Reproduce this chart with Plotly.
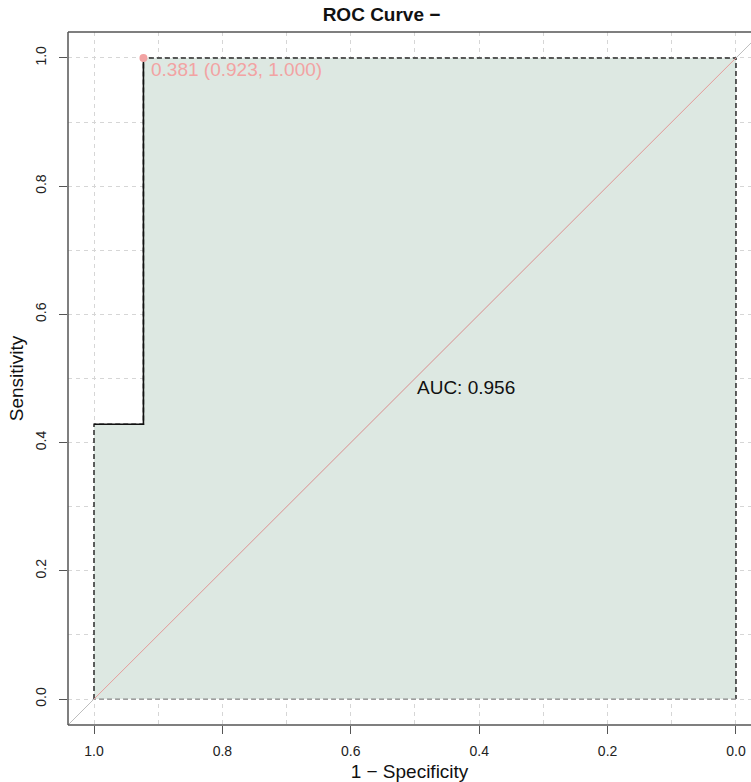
import plotly.graph_objects as go

# ROC data (x axis = specificity, reversed)
roc_spec = [1.0, 1.0, 0.923, 0.923, 0.0]
roc_sens = [0.0, 0.4286, 0.4286, 1.0, 1.0]
auc_value = 0.956
best_threshold = 0.381
best_spec = 0.923
best_sens = 1.000
x_ticks = [1.0, 0.8, 0.6, 0.4, 0.2, 0.0]
y_ticks = [0.0, 0.2, 0.4, 0.6, 0.8, 1.0]
grid_vals = [0.1, 0.3, 0.5, 0.7, 0.9]

FONT = "Liberation Sans, Arial, Helvetica, sans-serif"
fill_col = "#dde8e2"
pink = "#f2a3a3"

fig = go.Figure()

# AUC polygon fill
poly_x = roc_spec + [0.0, 1.0]
poly_y = roc_sens + [0.0, 0.0]
fig.add_trace(go.Scatter(x=poly_x, y=poly_y, mode="lines", fill="toself",
                         fillcolor=fill_col, line=dict(width=0),
                         hoverinfo="skip", showlegend=False))
# polygon dashed border (dark part: left, top, right)
fig.add_trace(go.Scatter(x=roc_spec + [0.0], y=roc_sens + [0.0], mode="lines",
                         line=dict(color="#2a2a2a", width=1.5, dash="5px,3px"),
                         hoverinfo="skip", showlegend=False))
# polygon bottom border (grey)
fig.add_trace(go.Scatter(x=[0.0, 1.0], y=[0.0, 0.0], mode="lines",
                         line=dict(color="#8a8a8a", width=1.3, dash="5px,3px"),
                         hoverinfo="skip", showlegend=False))

# full-extent grey diagonal
fig.add_trace(go.Scatter(x=[1.1, -0.1], y=[-0.1, 1.1], mode="lines",
                         line=dict(color="#bdbdbd", width=1),
                         hoverinfo="skip", showlegend=False))
# pink identity line in [0,1]
fig.add_trace(go.Scatter(x=[1.0, 0.0], y=[0.0, 1.0], mode="lines",
                         line=dict(color="#e9a3a0", width=1),
                         hoverinfo="skip", showlegend=False))

# solid ROC step portion
fig.add_trace(go.Scatter(x=roc_spec[1:4], y=roc_sens[1:4], mode="lines",
                         line=dict(color="#111111", width=1.6),
                         hoverinfo="skip", showlegend=False))

# best threshold point
fig.add_trace(go.Scatter(x=[best_spec], y=[best_sens], mode="markers",
                         marker=dict(color=pink, size=8),
                         hoverinfo="skip", showlegend=False))

fig.add_annotation(x=best_spec, y=best_sens, xref="x", yref="y",
                   text=f"{best_threshold:.3f} ({best_spec:.3f}, {best_sens:.3f})",
                   showarrow=False, xanchor="left", yanchor="top",
                   xshift=6, yshift=1,
                   font=dict(family=FONT, size=19, color=pink))

fig.add_annotation(x=0.5, y=0.486, xref="x", yref="y",
                   text=f"AUC: {auc_value:.3f}", showarrow=False,
                   xanchor="left", yanchor="middle",
                   font=dict(family=FONT, size=19, color="#111111"))

# box lines (left, top, bottom) - right edge is off-canvas
box_col = "#555555"
for x0, y0, x1, y1 in [(0, 0, 0, 1), (0, 1, 1, 1), (0, 0, 1, 0)]:
    fig.add_shape(type="line", xref="paper", yref="paper",
                  x0=x0, y0=y0, x1=x1, y1=y1,
                  line=dict(color=box_col, width=1.5))

grid_col = "#d6d6d6"
gdash = "4px,4px"
fig.update_xaxes(range=[1.0405, -0.0234], tickvals=x_ticks,
                 ticktext=[f"{v:.1f}" for v in x_ticks],
                 ticks="outside", ticklen=8, tickcolor=box_col, tickwidth=1.2,
                 ticklabelstandoff=5,
                 showgrid=True, gridcolor=grid_col, griddash=gdash, gridwidth=1,
                 minor=dict(tickvals=grid_vals, showgrid=True,
                            gridcolor=grid_col, griddash=gdash, gridwidth=1,
                            ticks=""),
                 zeroline=False, showline=False, automargin=False,
                 tickfont=dict(family=FONT, size=14, color="#222"),
                 title=dict(text="1 − Specificity", standoff=6,
                            font=dict(family=FONT, size=19, color="#111")))
fig.update_yaxes(range=[-0.0405, 1.0405], tickvals=y_ticks,
                 ticktext=[f"{v:.1f}" for v in y_ticks],
                 ticks="outside", ticklen=8, tickcolor=box_col, tickwidth=1.2,
                 tickangle=-90, ticklabelstandoff=7,
                 showgrid=True, gridcolor=grid_col, griddash=gdash, gridwidth=1,
                 minor=dict(tickvals=grid_vals, showgrid=True,
                            gridcolor=grid_col, griddash=gdash, gridwidth=1,
                            ticks=""),
                 zeroline=False, showline=False, automargin=False,
                 tickfont=dict(family=FONT, size=14, color="#222"),
                 title=dict(text="Sensitivity", standoff=4,
                            font=dict(family=FONT, size=19, color="#111")))

fig.update_layout(width=751, height=782,
                  margin=dict(l=68, r=0, t=32, b=57),
                  plot_bgcolor="white", paper_bgcolor="white",
                  title=dict(text="<b>ROC Curve −</b>", x=0.508, xanchor="center",
                             y=0.982, yanchor="middle",
                             font=dict(family=FONT, size=19, color="#111")))

fig.write_html("out.html", config={"displayModeBar": False},
               post_script="document.body.style.margin='0';document.body.style.overflow='hidden';")
